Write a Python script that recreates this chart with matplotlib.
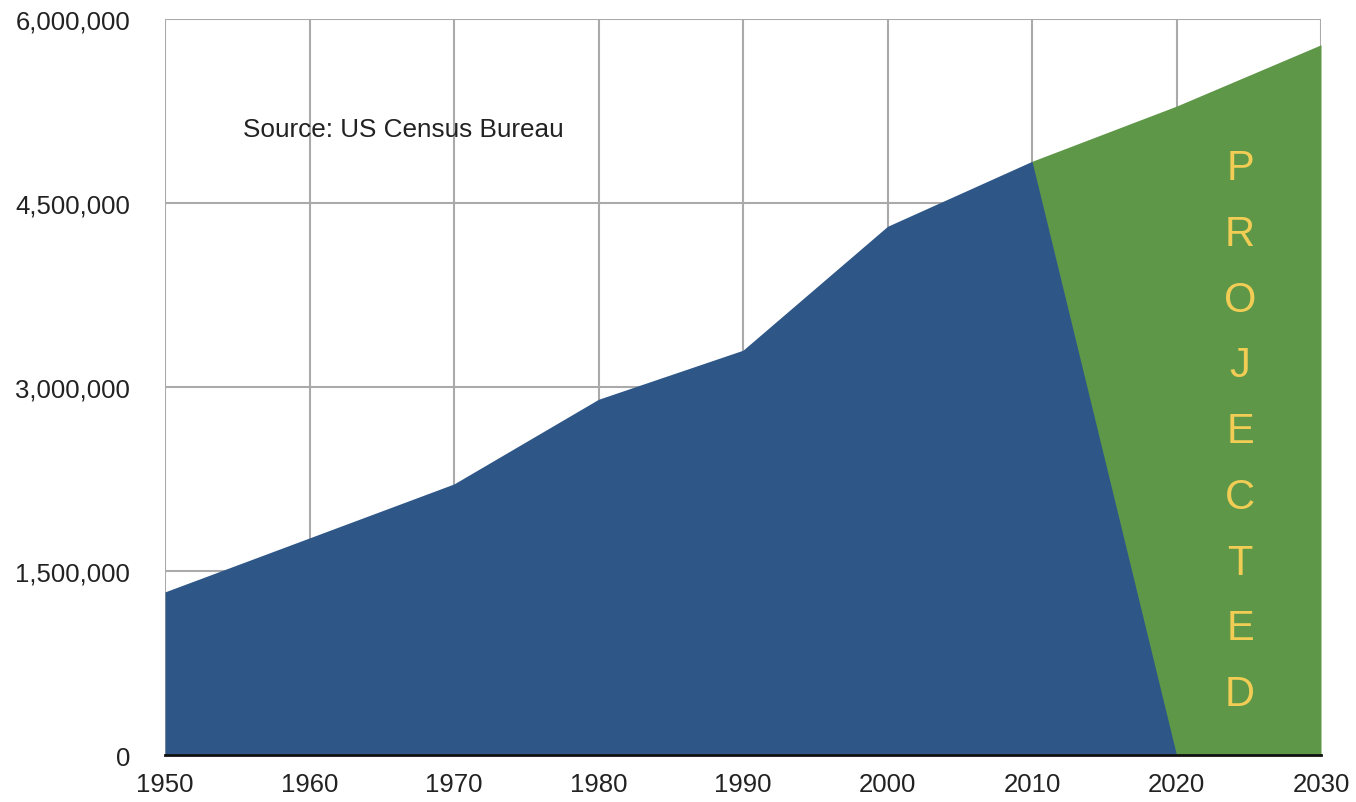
import numpy as np
import matplotlib.pyplot as plt
from matplotlib.ticker import FuncFormatter

# 数据
years_hist = [1950, 1960, 1970, 1980, 1990, 2000, 2010, 2020]
pop_hist = [1330000, 1770000, 2210000, 2900000, 3300000, 4310000, 4840000, 0]
years_proj = [2010, 2020, 2030]
pop_proj = [4840000, 5290000, 5790000]
x_ticks = [1950, 1960, 1970, 1980, 1990, 2000, 2010, 2020, 2030]
y_ticks = [0, 1500000, 3000000, 4500000, 6000000]

plt.rcParams['font.family'] = ['Liberation Sans', 'DejaVu Sans']

fig = plt.figure(figsize=(13.56, 8.03), dpi=100)
ax = fig.add_axes([0.1217, 0.0585, 0.8525, 0.9166])

# 预测部分在下层，历史部分覆盖
ax.fill_between(years_proj, pop_proj, 0, color='#5E9747', linewidth=0, zorder=2)
ax.fill_between(years_hist, pop_hist, 0, color='#2E5788', linewidth=0, zorder=3)

ax.set_xlim(1950, 2030)
ax.set_ylim(0, 6000000)
ax.set_xticks(x_ticks)
ax.set_yticks(y_ticks)
ax.yaxis.set_major_formatter(FuncFormatter(lambda v, p: f'{int(v):,}'))

ax.grid(True, color='#AAAAAA', linewidth=1.5)
ax.set_axisbelow(True)
ax.tick_params(axis='both', length=0, labelsize=18.5, colors='#222222')
ax.tick_params(axis='y', pad=25)
ax.tick_params(axis='x', pad=12)

for s in ['top', 'right', 'left']:
    ax.spines[s].set_visible(False)
ax.spines['bottom'].set_color('#111111')
ax.spines['bottom'].set_linewidth(2)
ax.spines['bottom'].set_zorder(5)

ax.text(1955.4, 5100000, 'Source: US Census Bureau', fontsize=18.8, color='#222222',
        va='center', ha='left')

ax.text(2024.4, 2640000, '\n'.join('PROJECTED'), fontsize=30, color='#F2CD55',
        ha='center', va='center', linespacing=1.83, zorder=6)

plt.savefig('out.png', dpi=100)
